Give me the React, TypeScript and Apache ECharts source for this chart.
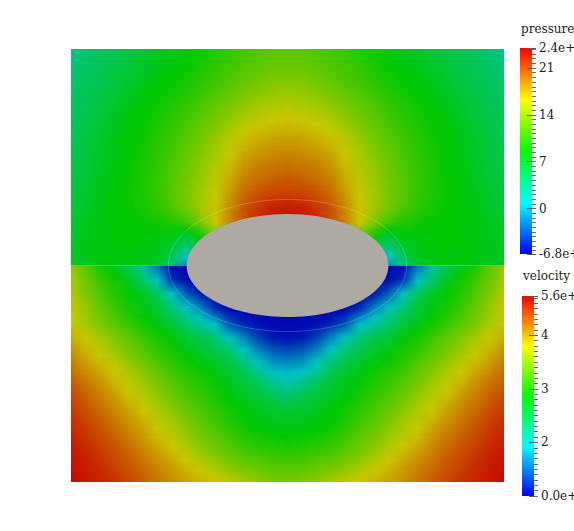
import React, { useEffect, useRef } from "react";
import * as echarts from "echarts";

// Samples. Each row runs from the left edge to the centre line;
// the picture is mirror-symmetric about the centre line.
const pressureRows = [
  [3.6, 4.2, 4.8, 5.3, 5.9, 6.4, 7, 7.6, 8.2, 9.1, 9.9, 10.6, 11.2, 11.7, 12, 12.1],
  [3.9, 4.5, 5.1, 5.7, 6.3, 6.9, 7.5, 8.1, 8.7, 9.5, 10.2, 10.9, 11.5, 12, 12.4, 12.5],
  [4.2, 4.9, 5.5, 6.2, 6.9, 7.5, 8.2, 8.6, 9.3, 10, 10.8, 11.5, 12.2, 12.8, 13.2, 13.3],
  [4.5, 5.2, 5.9, 6.6, 7.3, 8, 8.6, 9.2, 9.9, 10.7, 11.5, 12.3, 13.1, 13.7, 14.2, 14.4],
  [4.8, 5.5, 6.2, 7, 7.8, 8.5, 9.1, 9.8, 10.6, 11.5, 12.4, 13.3, 14.2, 14.9, 15.3, 15.5],
  [5, 5.8, 6.6, 7.4, 8.2, 8.7, 9.5, 10.3, 11.2, 12.2, 13.2, 14.3, 15.3, 16, 16.4, 16.6],
  [5.3, 6.1, 6.9, 7.7, 8.5, 9, 9.9, 10.8, 11.8, 12.9, 14.1, 15.4, 16.5, 17.1, 17.5, 17.6],
  [5.5, 6.3, 7.1, 7.9, 8.6, 9.3, 10.2, 11.2, 12.3, 13.5, 14.8, 16.1, 17.3, 18, 18.4, 18.5],
  [5.8, 6.5, 7.3, 8.1, 8.7, 9.5, 10.4, 11.5, 12.7, 14, 15.4, 16.8, 18.2, 19, 19.4, 19.6],
  [6, 6.7, 7.5, 8.3, 8.8, 9.6, 10.6, 11.7, 13, 14.4, 15.8, 17.4, 19, 19.8, 20.3, 20.5],
  [6.3, 7, 7.7, 8.4, 8.9, 9.6, 10.6, 11.8, 13.2, 14.7, 16.2, 18, 19.9, 20.8, 21.4, 21.6],
  [6.6, 7.2, 7.9, 8.5, 8.8, 9.3, 10.2, 11.4, 13, 14.8, 16.5, 18.6, 20.8, 22, 22.8, 23],
  [6.9, 7.5, 8, 8.5, 8.6, 8.8, 9.2, 9.8, 11, 13.5, 16.3, 19, 21, 22.5, 23.5, 23.8],
  [7.1, 7.6, 8, 8.4, 8.5, 8.3, 8.2, 8, 6.5, 9, 12, 16, 19, 22, 23.5, 23.8],
  [7.3, 7.7, 8, 8.2, 8.2, 8, 7.6, 6.2, 2.2, 6, 10, 14, 18, 22, 23.5, 23.8],
  [7.4, 7.8, 8, 8.1, 8.1, 8, 7.2, 3.8, -1, 4, 9, 13, 17, 21, 23, 23.8],
];

const velocityRows = [
  [3.85, 3.4, 2.95, 2.6, 2.2, 1.6, 0.8, 0.08, 0.05, 0.05, 0.05, 0.05, 0.05, 0.05, 0.05, 0.05],
  [3.95, 3.55, 3.2, 2.9, 2.6, 2.0, 1.35, 0.35, 0.08, 0.05, 0.05, 0.05, 0.05, 0.05, 0.05, 0.05],
  [4.05, 3.7, 3.35, 3.05, 2.8, 2.55, 2.15, 1.45, 0.7, 0.2, 0.05, 0.05, 0.05, 0.05, 0.05, 0.05],
  [4.15, 3.85, 3.5, 3.2, 2.95, 2.7, 2.4, 2.0, 1.5, 1.0, 0.3, 0.05, 0.05, 0.05, 0.05, 0.05],
  [4.2, 3.95, 3.65, 3.4, 3.15, 2.9, 2.65, 2.4, 2.0, 1.6, 1.3, 0.55, 0.2, 0.08, 0.06, 0.05],
  [4.4, 4.2, 3.95, 3.7, 3.45, 3.2, 2.95, 2.75, 2.45, 2.3, 1.95, 1.4, 0.95, 0.45, 0.15, 0.12],
  [4.6, 4.35, 4.15, 3.9, 3.65, 3.4, 3.15, 2.95, 2.7, 2.55, 2.3, 2.05, 1.5, 1.05, 0.7, 0.6],
  [4.8, 4.55, 4.35, 4.15, 3.9, 3.65, 3.4, 3.15, 2.95, 2.8, 2.6, 2.4, 2.05, 1.55, 1.2, 1.15],
  [4.95, 4.75, 4.55, 4.3, 4.1, 3.85, 3.6, 3.35, 3.15, 3.0, 2.8, 2.6, 2.4, 2.1, 1.7, 1.5],
  [5.1, 4.9, 4.7, 4.5, 4.25, 4.05, 3.8, 3.55, 3.3, 3.15, 2.95, 2.75, 2.6, 2.4, 2.2, 2.05],
  [5.2, 5.05, 4.85, 4.65, 4.45, 4.2, 4, 3.75, 3.5, 3.3, 3.1, 2.9, 2.75, 2.6, 2.5, 2.4],
  [5.3, 5.15, 5, 4.8, 4.6, 4.4, 4.15, 3.95, 3.7, 3.45, 3.25, 3.05, 2.85, 2.75, 2.65, 2.65],
  [5.4, 5.25, 5.1, 4.95, 4.75, 4.55, 4.3, 4.1, 3.9, 3.65, 3.45, 3.25, 3.05, 2.95, 2.9, 2.85],
  [5.45, 5.35, 5.2, 5.05, 4.9, 4.7, 4.5, 4.3, 4.1, 3.85, 3.65, 3.45, 3.3, 3.2, 3.15, 3.1],
  [5.5, 5.4, 5.3, 5.15, 5.0, 4.85, 4.65, 4.5, 4.3, 4.15, 3.95, 3.75, 3.6, 3.5, 3.4, 3.4],
  [5.55, 5.45, 5.35, 5.25, 5.1, 4.95, 4.8, 4.6, 4.45, 4.35, 4.25, 4.1, 3.95, 3.8, 3.7, 3.65],
];

const pressureRange = [-6.8, 24];
const velocityRange = [0, 5.6];
const pressureTicks = [-6.8, 0, 7, 14, 21, 24];
const pressureLabels = ["-6.8e+0", "0", "7", "14", "21", "2.4e+1"];
const velocityTicks = [0, 1.5, 3, 4.5, 5.6];
const velocityLabels = ["0.0e+0", "2", "3", "4", "5.6e+0"];
const pressureMinorStep = 0.7;
const velocityMinorStep = 0.15;
const bodyRadii = [0.466, 0.238];
const ringRadii = [0.55, 0.305];

const shadedColors = [[0, 0, 175], [0, 195, 195], [0, 200, 0], [200, 200, 0], [200, 0, 0]];
const barColors = ["#0000ff", "#00ffff", "#00ff00", "#ffff00", "#ff0000"];
const SERIF = "'DejaVu Serif'";
const STRIPS = 6;

function colorOf(v: number, range: number[]) {
  const t = Math.max(0, Math.min(0.9999, (v - range[0]) / (range[1] - range[0]))) * 4;
  const i = Math.floor(t);
  const f = t - i;
  const a = shadedColors[i];
  const b = shadedColors[i + 1];
  return `rgb(${a.map((c, k) => Math.round(c + (b[k] - c) * f)).join(",")})`;
}

function stripFill(upper: number[], lower: number[], f: number, range: number[]) {
  const half = upper.map((u, i) => u + (lower[i] - u) * f);
  const row = half.concat(half.slice(0, -1).reverse());
  const stops = row.map((v, i) => ({ offset: i / (row.length - 1), color: colorOf(v, range) }));
  return new echarts.graphic.LinearGradient(0, 0, 1, 0, stops);
}

function rowY(rowIndex: number, isUpper: boolean) {
  const t = rowIndex / (pressureRows.length - 1);
  return isUpper ? 1 - t : -t;
}

function heatSeries(rows: number[][], range: number[], isUpper: boolean) {
  return {
    type: "custom",
    xAxisIndex: 0,
    yAxisIndex: 0,
    clip: true,
    silent: true,
    z: 1,
    data: rows.slice(0, -1).map((_, i) => [i]),
    renderItem: (params: any, api: any) => {
      const i = api.value(0);
      const y0 = rowY(i, isUpper);
      const y1 = rowY(i + 1, isUpper);
      const children = [];
      for (let s = 0; s < STRIPS; s++) {
        const f = (s + 0.5) / STRIPS;
        const a = api.coord([-1, y0 + ((y1 - y0) * s) / STRIPS]);
        const b = api.coord([1, y0 + ((y1 - y0) * (s + 1)) / STRIPS]);
        children.push({
          type: "rect",
          shape: { x: a[0], y: a[1], width: b[0] - a[0], height: b[1] - a[1] + 1.5 },
          style: { fill: stripFill(rows[i], rows[i + 1], f, range) },
        });
      }
      return { type: "group", children };
    },
  };
}

function ellipseSeries(radii: number[], style: any, z: number) {
  return {
    type: "custom",
    xAxisIndex: 0,
    yAxisIndex: 0,
    silent: true,
    z,
    data: [[0, 0]],
    renderItem: (params: any, api: any) => {
      const c = api.coord([api.value(0), api.value(1)]);
      const e = api.coord([radii[0], radii[1]]);
      return {
        type: "ellipse",
        shape: { cx: c[0], cy: c[1], rx: e[0] - c[0], ry: c[1] - e[1] },
        style,
      };
    },
  };
}

function seamSeries() {
  return {
    type: "custom",
    xAxisIndex: 0,
    yAxisIndex: 0,
    silent: true,
    z: 2,
    data: [[-1, 1]],
    renderItem: (params: any, api: any) => {
      const a = api.coord([api.value(0), 0]);
      const b = api.coord([api.value(1), 0]);
      return {
        type: "line",
        shape: { x1: a[0], y1: a[1], x2: b[0], y2: b[1] },
        style: { stroke: "rgba(255,255,255,0.2)", lineWidth: 1 },
      };
    },
  };
}

function barSeries(index: number, range: number[]) {
  return {
    type: "custom",
    xAxisIndex: index,
    yAxisIndex: index * 2 - 1,
    silent: true,
    z: 1,
    data: [range],
    renderItem: (params: any, api: any) => {
      const a = api.coord([0, api.value(1)]);
      const b = api.coord([0.75, api.value(0)]);
      return {
        type: "rect",
        shape: { x: a[0], y: a[1], width: b[0] - a[0], height: b[1] - a[1] },
        style: {
          fill: new echarts.graphic.LinearGradient(
            0, 1, 0, 0,
            barColors.map((color, i) => ({ offset: i / 4, color }))
          ),
        },
      };
    },
  };
}

function minorTicks(range: number[], step: number) {
  const out: number[] = [];
  const n = Math.floor(range[1] / step);
  for (let i = Math.ceil(range[0] / step); i <= n; i++) out.push(i * step);
  return out;
}

function barAxes(gridIndex: number, range: number[], ticks: number[], labels: string[], step: number) {
  const common = { type: "value", gridIndex, z: 5, min: range[0], max: range[1], position: "right", axisLine: { show: false, onZero: false }, splitLine: { show: false } };
  return [
    {
      ...common,
      axisTick: { show: true, inside: true, length: 9, customValues: ticks, lineStyle: { color: "#5a5a5a", width: 1 } },
      axisLabel: {
        show: true,
        customValues: ticks,
        margin: 3,
        hideOverlap: false,
        showMinLabel: true,
        showMaxLabel: true,
        color: "#1a1a1a",
        fontFamily: SERIF,
        fontSize: 12,
        formatter: (v: number) => labels[ticks.findIndex((t) => Math.abs(t - v) < 1e-6)] ?? "",
      },
    },
    {
      ...common,
      offset: 0,
      axisTick: { show: true, inside: true, length: 4, customValues: minorTicks(range, step), lineStyle: { color: "#6a6a6a", width: 1 } },
      axisLabel: { show: false },
    },
  ];
}

export default function App() {
  const ref = useRef<HTMLDivElement>(null);
  useEffect(() => {
    document.body.style.margin = "0";
    const chart = echarts.init(ref.current!, null, { renderer: "svg" });
    const hiddenX = { type: "value", show: false };
    chart.setOption({
      animation: false,
      backgroundColor: "#ffffff",
      title: [
        { text: "pressure", left: 521, top: 23, padding: 0, textStyle: { fontFamily: SERIF, fontSize: 12, fontWeight: "normal", color: "#1a1a1a" } },
        { text: "velocity", left: 523, top: 270, padding: 0, textStyle: { fontFamily: SERIF, fontSize: 12, fontWeight: "normal", color: "#1a1a1a" } },
      ],
      grid: [
        { left: 71, top: 49, width: 433, height: 433, outerBoundsMode: "none" },
        { left: 520, top: 48, width: 16, height: 206, outerBoundsMode: "none" },
        { left: 522, top: 296, width: 16, height: 200, outerBoundsMode: "none" },
      ],
      xAxis: [
        { ...hiddenX, gridIndex: 0, min: -1, max: 1 },
        { ...hiddenX, gridIndex: 1, min: 0, max: 1 },
        { ...hiddenX, gridIndex: 2, min: 0, max: 1 },
      ],
      yAxis: [
        { type: "value", show: false, gridIndex: 0, min: -1, max: 1 },
        ...barAxes(1, pressureRange, pressureTicks, pressureLabels, pressureMinorStep),
        ...barAxes(2, velocityRange, velocityTicks, velocityLabels, velocityMinorStep),
      ],
      series: [
        heatSeries(pressureRows, pressureRange, true),
        heatSeries(velocityRows, velocityRange, false),
        seamSeries(),
        ellipseSeries(ringRadii, { fill: "none", stroke: "rgba(255,255,255,0.2)", lineWidth: 1 }, 2),
        ellipseSeries(bodyRadii, { fill: "#ada9a3" }, 3),
        barSeries(1, pressureRange),
        barSeries(2, velocityRange),
      ],
    });
    return () => chart.dispose();
  }, []);
  return <div ref={ref} style={{ width: 574, height: 531 }} />;
}
